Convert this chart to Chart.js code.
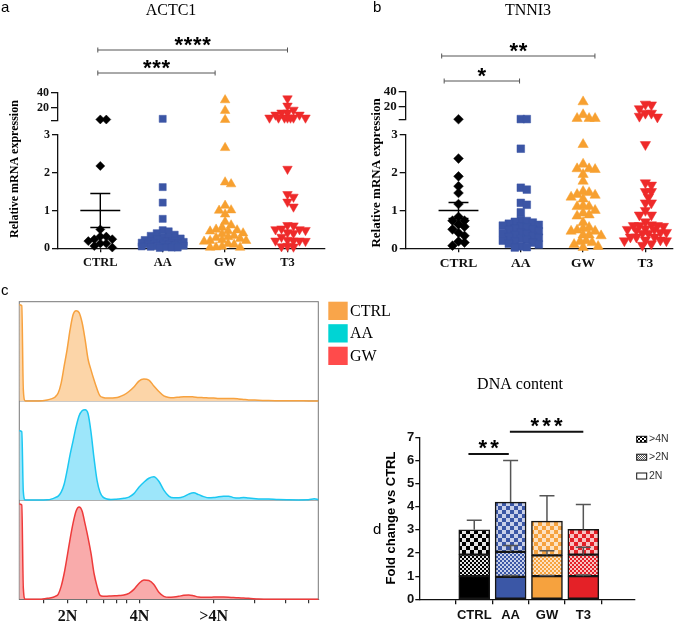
<!DOCTYPE html>
<html lang="en">
<head>
<meta charset="UTF-8">
<title>ACTC1 / TNNI3 expression and DNA content</title>
<script src="https://cdn.jsdelivr.net/npm/chart.js"></script>
<style>
  body { margin: 0; background: #fff; }
  #wrap { position: relative; width: 685px; height: 624px; overflow: hidden; background: #fff; }
  canvas { position: absolute; }
</style>
</head>
<body>
<div id="wrap">
  <canvas id="aUp" width="340" height="280" style="left:0;top:0"></canvas>
  <canvas id="aLow" width="340" height="280" style="left:0;top:0"></canvas>
  <canvas id="bUp" width="345" height="280" style="left:340px;top:0"></canvas>
  <canvas id="bLow" width="345" height="280" style="left:340px;top:0"></canvas>
  <canvas id="cHist" width="400" height="344" style="left:0;top:280px"></canvas>
  <canvas id="dBar" width="315" height="254" style="left:370px;top:370px"></canvas>
</div>
<script>
// ---- data: qPCR dot plots (relative mRNA expression) ----
const groups = ['CTRL', 'AA', 'GW', 'T3'];

const actc1Ctrl = [4.3, 4.4, 2.18, 0.5, 0.31, 0.31, 0.24, 0.24, 0.19, 0.13, 0.13, 0.06, 0.02];
const actc1AA = [5.2, 1.62, 1.21, 0.78, 0.48, 0.45, 0.4, 0.36, 0.33, 0.3, 0.28, 0.26, 0.24, 0.22, 0.2, 0.19,
  0.18, 0.17, 0.15, 0.15, 0.14, 0.13, 0.12, 0.11, 0.1, 0.09, 0.08, 0.07, 0.06, 0.05, 0.04, 0.03, 0.02, 0.02, 0.01];
const actc1GW = [30, 16, 4, 2.66, 1.75, 1.7, 1.13, 1.01, 1.0, 0.9, 0.7, 0.61, 0.55, 0.5, 0.48, 0.46, 0.45, 0.4,
  0.38, 0.33, 0.3, 0.28, 0.25, 0.22, 0.2, 0.2, 0.18, 0.12, 0.1, 0.05, 0.03, 0.02, 0.02];
const actc1T3 = [32, 22.4, 17, 13.2, 13.2, 10.5, 10.5, 6.6, 6.6, 6.6, 6.6, 6.6, 6.6, 6.6, 2.1, 1.43, 1.36, 1.23,
  1.1, 0.61, 0.6, 0.52, 0.5, 0.5, 0.48, 0.42, 0.4, 0.3, 0.22, 0.2, 0.2, 0.2, 0.19, 0.06, 0.05, 0.04];

const tnni3Ctrl = [4, 2.37, 1.9, 1.64, 1.46, 1.17, 0.83, 0.73, 0.73, 0.63, 0.57, 0.5, 0.41, 0.33, 0.18, 0.15, 0.07];
const tnni3AA = [4.2, 4.2, 2.63, 1.6, 1.55, 1.2, 1.15, 0.95, 0.75, 0.72, 0.7, 0.68, 0.65, 0.62, 0.6, 0.58, 0.55,
  0.52, 0.5, 0.48, 0.45, 0.42, 0.4, 0.38, 0.35, 0.32, 0.3, 0.28, 0.25, 0.22, 0.2, 0.18, 0.15, 0.12, 0.1, 0.05, 0.03, 0.02];
const tnni3GW = [27, 10, 5, 5, 5, 2.74, 2.22, 2.1, 2.1, 2.08, 1.95, 1.77, 1.5, 1.47, 1.42, 1.4, 1.35, 1.3, 1.12,
  1.1, 1.1, 1.0, 0.93, 0.88, 0.85, 0.68, 0.55, 0.52, 0.48, 0.45, 0.45, 0.35, 0.35, 0.33, 0.2, 0.18, 0.15, 0.1, 0.05, 0.02];
const tnni3T3 = [24, 23, 18, 12, 12, 8, 7, 2.74, 1.73, 1.67, 1.5, 1.5, 1.35, 1.2, 1.2, 1.0, 0.88, 0.88, 0.7, 0.62,
  0.6, 0.6, 0.6, 0.58, 0.52, 0.5, 0.5, 0.48, 0.42, 0.42, 0.4, 0.4, 0.3, 0.3, 0.3, 0.22, 0.22, 0.2, 0.2, 0.12, 0.08];

const actc1Mean = 1.0, actc1Sem = 0.45;
const tnni3Mean = 1.0, tnni3Sem = 0.21;
const actc1Sig = ['****', '***'];
const tnni3Sig = ['**', '*'];

const breakValue = 3;
const lowerTicks = [0, 1, 2, 3];
const upperTicks = [20, 40];

// ---- data: DNA content histograms ----
const histNames = ['CTRL', 'AA', 'GW'];
const dnaChannel = [0, 2.5, 4, 6, 10, 20, 28, 32, 36, 39, 42, 45, 48, 51, 54, 57, 60, 63, 66, 69, 72, 75, 78, 81, 84,
  88, 92, 96, 100, 105, 110, 115, 120, 125, 130, 135, 140, 145, 150, 155, 160, 165, 170, 175, 180, 185, 190, 195,
  200, 205, 210, 215, 220, 225, 230, 240, 250, 260, 270, 280, 290, 296, 300];
const ctrlCounts = [97, 96, 12, 0, 0, 0, 1, 2, 4, 8, 18, 35, 52, 72, 87, 91, 89, 79, 62, 42, 31, 21, 12, 5, 3.5,
  2.8, 2.8, 3.2, 4, 6, 9.5, 14, 20, 22, 21, 15, 9.5, 5, 3.5, 3.3, 3.8, 4.3, 4.3, 4, 3.5, 3.3, 3, 2.8,
  2.4, 2.3, 2.3, 2.3, 2, 1.5, 1, 0.7, 0.3, 0.2, 0.1, 0.1, 0, 0, 0];
const aaCounts = [70, 69, 9, 0, 0, 0, 0.3, 1, 2.5, 4, 8, 16, 30, 46, 60, 74, 85, 90, 91, 87, 68, 42, 20, 8, 3,
  1.2, 0.7, 0.8, 1.2, 1.8, 3, 6.5, 13, 18, 22, 23.5, 19, 10, 4, 2.3, 2.3, 3.5, 6, 7.3, 5.5, 3.5, 2.3, 2.6,
  3.3, 3.8, 4, 2.5, 2, 2.7, 2, 1.2, 1, 0.5, 0.3, 0.2, 0.3, 1.3, 0.5];
const gwCounts = [96, 95, 12, 0, 0, 0, 1, 1.5, 3, 5, 13, 26, 43, 61, 77, 89, 93, 89, 76, 62, 46, 26, 13, 4, 3,
  3.2, 3.3, 3.5, 3.8, 4.3, 6, 10, 16, 19.5, 19, 15, 7, 3, 2, 2.3, 3, 4, 4.3, 3.5, 2.3, 2, 2, 2.2,
  2.3, 2.2, 2, 1.7, 1.5, 1.2, 1, 0.3, 0, 0, 0, 0, 0, 0, 0];
const ploidyTicks = [24, 48.4, 68, 84.7, 97.4, 108, 120.7, 195, 235.7, 266.7, 290.7];
const ploidyText = ['', '2N', '', '', '', '', '4N', '>4N', '', '', ''];

// ---- data: DNA content fold change (stacked) ----
const dnaGroups = ['CTRL', 'AA', 'GW', 'T3'];
const part2N = [1.0, 0.97, 1.0, 1.0];
const partOver2N = [0.93, 1.08, 0.9, 0.93];
const partOver4N = [1.07, 2.15, 1.48, 1.09];
const err2N = [0, 0.06, 0.03, 0.05];
const errOver2N = [0, 0.28, 0.2, 0.32];
const errOver4N = [0.42, 1.8, 1.09, 1.08];
const dnaSig = ['**', '***'];

// ---- shared styling ----
const serif = "'Liberation Serif', 'Times New Roman', serif";
const sans = "'Liberation Sans', Arial, sans-serif";
const ink = '#111';

const markers = [
  { style: 'rectRot', r: 4.5, color: '#000000', rot: 0 },
  { style: 'rect', r: 5, color: '#3B55A5', rot: 0 },
  { style: 'triangle', r: 5.5, color: '#F7A030', rot: 0 },
  { style: 'triangle', r: 5.5, color: '#EE2A2A', rot: 180 }
];

const tickGrid = (len) => ({ display: true, drawOnChartArea: false, drawTicks: true, tickLength: len, color: ink, lineWidth: 1.3 });
const axisBorder = { display: true, color: ink, width: 1.3 };

// rough pixel height of a value on the broken axis, only used to spread the dots
function brokenPx(v) {
  return v <= breakValue ? v * 37.8 : breakValue * 37.8 + 14.3 + (v - breakValue) * 0.757;
}

// column scatter layout: each dot goes as near the centre as it can without overlap,
// but never wider than +-21px; when the column is full it takes the least crowded spot
function swarm(values, unitPx) {
  const order = values.map((v, i) => i).sort((a, b) => values[b] - values[a]);
  const placed = [];
  const out = [];
  order.forEach(i => {
    const y = brokenPx(values[i]);
    let best = 0, bestGap = -1;
    for (let n = 0; n <= 14; n++) {
      const dx = (n % 2 ? 1 : -1) * Math.ceil(n / 2) * 3;
      const gap = placed.length ? Math.min(...placed.map(p => (p.x - dx) ** 2 + (p.y - y) ** 2)) : Infinity;
      if (gap >= 36) { best = dx; break; }
      if (gap > bestGap) { bestGap = gap; best = dx; }
    }
    placed.push({ x: best, y });
    out[i] = best / unitPx;
  });
  return out;
}

function drawStars(ctx, cx, cy, text, gap, size) {
  ctx.save();
  ctx.fillStyle = '#000';
  ctx.font = 'bold ' + size + 'px ' + sans;
  ctx.textAlign = 'center';
  ctx.textBaseline = 'alphabetic';
  const n = text.length;
  for (let i = 0; i < n; i++) {
    ctx.fillText('*', cx + (i - (n - 1) / 2) * gap, cy + size * 0.58);
  }
  ctx.restore();
}

function dotPanel(p) {
  const xMin = (p.axisL - p.cat0) / p.unit;
  const xMax = (p.axisR - p.cat0) / p.unit;
  const yW = p.axisL - p.left;
  const rightPad = p.left + p.width - p.axisR;
  const offs = p.series.map(vals => swarm(vals, p.unit));

  const sets = (keep) => p.series.map((vals, g) => ({
    label: groups[g],
    data: vals.map((v, i) => ({ x: g + offs[g][i], y: v })).filter(d => keep(d.y)),
    pointStyle: markers[g].style,
    pointRadius: markers[g].r * p.k,
    pointRotation: markers[g].rot,
    backgroundColor: markers[g].color,
    borderColor: markers[g].color,
    borderWidth: 0.5,
    clip: false
  }));

  // upper part of the broken axis + title and comparison brackets
  new Chart(document.getElementById(p.ids[0]), {
    type: 'scatter',
    data: { datasets: sets(v => v > breakValue) },
    options: {
      responsive: false, animation: false, events: [],
      layout: { padding: { left: 0, top: p.upTop, right: rightPad, bottom: p.height - p.upBottom } },
      plugins: { legend: { display: false }, tooltip: { enabled: false } },
      scales: {
        x: { type: 'linear', min: xMin, max: xMax, display: false },
        y: {
          type: 'linear', min: breakValue, max: upperTicks[upperTicks.length - 1],
          afterFit: s => { s.width = yW; },
          afterBuildTicks: s => { s.ticks = [breakValue, ...upperTicks].map(value => ({ value })); },
          ticks: { autoSkip: false, callback: v => v === breakValue ? '' : v, font: { family: serif, weight: 'bold', size: p.fs }, color: ink, padding: 2 },
          grid: tickGrid(7), border: axisBorder
        }
      }
    },
    plugins: [{
      id: 'panelText',
      afterDraw(chart) {
        const ctx = chart.ctx, xs = chart.scales.x;
        ctx.save();
        ctx.fillStyle = '#000';
        ctx.font = '15px ' + sans;
        ctx.textBaseline = 'middle';
        ctx.fillText(p.letter, p.letterX, 8);
        ctx.font = '16px ' + serif;
        ctx.textAlign = 'center';
        ctx.fillText(p.title, p.titleX - p.left, 11);
        ctx.strokeStyle = '#555';
        ctx.lineWidth = 1;
        p.brackets.forEach((b, i) => {
          const x1 = xs.getPixelForValue(b.x1), x2 = xs.getPixelForValue(b.x2);
          ctx.beginPath();
          ctx.moveTo(x1, b.y); ctx.lineTo(x2, b.y);
          ctx.moveTo(x1, b.y - 2.5); ctx.lineTo(x1, b.y + 2.5);
          ctx.moveTo(x2, b.y - 2.5); ctx.lineTo(x2, b.y + 2.5);
          ctx.stroke();
          drawStars(ctx, (x1 + x2) / 2, b.y - 10.5, p.sig[i], 9.2, 22);
        });
        ctx.restore();
      }
    }]
  });

  // lower part of the axis with category labels, mean and SEM of the control group
  new Chart(document.getElementById(p.ids[1]), {
    type: 'scatter',
    data: { datasets: sets(v => v <= breakValue) },
    options: {
      responsive: false, animation: false, events: [],
      layout: { padding: { left: 0, top: p.lowTop, right: rightPad, bottom: 0 } },
      plugins: { legend: { display: false }, tooltip: { enabled: false } },
      scales: {
        x: {
          type: 'linear', min: xMin, max: xMax,
          afterFit: s => { s.height = p.height - p.lowBottom; },
          afterBuildTicks: s => { s.ticks = groups.map((g, i) => ({ value: i })); },
          ticks: { callback: v => groups[v], font: { family: serif, weight: 'bold', size: p.fs + 0.5 }, color: ink, padding: 3, maxRotation: 0, autoSkip: false },
          grid: tickGrid(4), border: axisBorder
        },
        y: {
          type: 'linear', min: 0, max: breakValue,
          afterFit: s => { s.width = yW; },
          afterBuildTicks: s => { s.ticks = lowerTicks.map(value => ({ value })); },
          ticks: { autoSkip: false, font: { family: serif, weight: 'bold', size: p.fs }, color: ink, padding: 2 },
          grid: tickGrid(6), border: axisBorder
        }
      }
    },
    plugins: [{
      id: 'meanSem',
      afterDatasetsDraw(chart) {
        const ctx = chart.ctx, xs = chart.scales.x, ys = chart.scales.y;
        const ym = ys.getPixelForValue(p.mean);
        const yt = ys.getPixelForValue(p.mean + p.sem), yb = ys.getPixelForValue(p.mean - p.sem);
        ctx.save();
        ctx.strokeStyle = '#000';
        ctx.lineWidth = 1.4;
        ctx.beginPath();
        ctx.moveTo(xs.getPixelForValue(-0.32), ym); ctx.lineTo(xs.getPixelForValue(0.32), ym);
        ctx.moveTo(xs.getPixelForValue(0), yt); ctx.lineTo(xs.getPixelForValue(0), yb);
        ctx.moveTo(xs.getPixelForValue(-0.16), yt); ctx.lineTo(xs.getPixelForValue(0.16), yt);
        ctx.moveTo(xs.getPixelForValue(-0.16), yb); ctx.lineTo(xs.getPixelForValue(0.16), yb);
        ctx.stroke();
        ctx.restore();
      },
      afterDraw(chart) {
        const ctx = chart.ctx;
        ctx.save();
        ctx.translate(p.yTitleX - p.left, p.yTitleY);
        ctx.rotate(-Math.PI / 2);
        ctx.fillStyle = '#000';
        ctx.font = 'bold ' + p.fs + 'px ' + serif;
        ctx.textAlign = 'center';
        ctx.textBaseline = 'middle';
        ctx.fillText('Relative mRNA expression', 0, 0);
        ctx.restore();
      }
    }]
  });
}

dotPanel({
  ids: ['aUp', 'aLow'], left: 0, width: 340, height: 280, k: 1,
  axisL: 58, axisR: 325, cat0: 100.3, unit: 62.4,
  upTop: 92.5, upBottom: 120.5, lowTop: 135, lowBottom: 248.3,
  series: [actc1Ctrl, actc1AA, actc1GW, actc1T3], mean: actc1Mean, sem: actc1Sem,
  title: 'ACTC1', titleX: 171, letter: 'a', letterX: 1, fs: 12,
  yTitleX: 15, yTitleY: 169, sig: actc1Sig,
  brackets: [{ x1: -0.04, x2: 3.0, y: 50 }, { x1: -0.04, x2: 1.84, y: 73 }]
});

dotPanel({
  ids: ['bUp', 'bLow'], left: 340, width: 345, height: 280, k: 1.08,
  axisL: 405.7, axisR: 673, cat0: 458.5, unit: 62.3,
  upTop: 92, upBottom: 120, lowTop: 134.7, lowBottom: 248.3,
  series: [tnni3Ctrl, tnni3AA, tnni3GW, tnni3T3], mean: tnni3Mean, sem: tnni3Sem,
  title: 'TNNI3', titleX: 528, letter: 'b', letterX: 33, fs: 13,
  yTitleX: 377, yTitleY: 173, sig: tnni3Sig,
  brackets: [{ x1: -0.27, x2: 2.19, y: 56 }, { x1: -0.23, x2: 0.98, y: 81 }]
});

// ---- panel c: stacked DNA histograms ----
const histLine = ['#F7A23F', '#1CC8F2', '#EE3B3B'];
const histFill = ['#FCD5A8', '#9DE6FA', '#F9ABAB'];
const histKey = ['#F9A54A', '#00D4D4', '#FF4B4B'];
const bandBase = [200, 100, 0];
const histCounts = [ctrlCounts, aaCounts, gwCounts];

new Chart(document.getElementById('cHist'), {
  type: 'line',
  data: {
    datasets: histNames.map((name, k) => ({
      label: name,
      data: dnaChannel.map((x, i) => ({ x, y: histCounts[k][i] + bandBase[k] })),
      borderColor: histLine[k],
      backgroundColor: histFill[k],
      fill: { value: bandBase[k] },
      borderWidth: 1.5,
      pointRadius: 0,
      cubicInterpolationMode: 'monotone',
      clip: false
    }))
  },
  options: {
    responsive: false, animation: false, events: [],
    layout: { padding: { left: 19.3, top: 21.7, right: 400 - 318.3, bottom: 0 } },
    plugins: { legend: { display: false }, tooltip: { enabled: false } },
    scales: {
      x: {
        type: 'linear', min: 0, max: 300,
        afterFit: s => { s.height = 344 - 319.3; },
        afterBuildTicks: s => { s.ticks = ploidyTicks.map(value => ({ value })); },
        ticks: { callback: (v, i) => ploidyText[i], font: { family: serif, weight: 'bold', size: 16 }, color: ink, padding: 4, maxRotation: 0, autoSkip: false },
        grid: { display: true, drawOnChartArea: false, tickLength: 4, color: '#333', lineWidth: 1.2 },
        border: { display: true, color: '#666', width: 1 }
      },
      y: { type: 'linear', min: 0, max: 300, display: false }
    }
  },
  plugins: [{
    id: 'frame',
    beforeDatasetsDraw(chart) {
      const ctx = chart.ctx, a = chart.chartArea, ys = chart.scales.y;
      ctx.save();
      ctx.strokeStyle = '#777';
      ctx.lineWidth = 1;
      ctx.strokeRect(a.left, a.top, a.right - a.left, a.bottom - a.top);
      [100, 200].forEach(v => {
        const y = ys.getPixelForValue(v);
        ctx.beginPath(); ctx.moveTo(a.left, y); ctx.lineTo(a.right, y); ctx.stroke();
      });
      ctx.restore();
    },
    afterDraw(chart) {
      const ctx = chart.ctx;
      ctx.save();
      ctx.fillStyle = '#000';
      ctx.font = '15px ' + sans;
      ctx.textBaseline = 'middle';
      ctx.fillText('c', 1, 11);
      ctx.font = '16px ' + serif;
      histNames.forEach((name, k) => {
        const top = 21.7 + k * 22.5;
        ctx.fillStyle = histKey[k];
        ctx.fillRect(328.3, top, 19.4, 18.3);
        ctx.fillStyle = '#000';
        ctx.fillText(name, 350, top + 10);
      });
      ctx.restore();
    }
  }]
});

// ---- panel d: stacked fold change bars ----
const barDark = ['#000000', '#3B57A6', '#F6A23E', '#E42127'];
const barLight = ['#e4e4e4', '#c8d0ea', '#fde2c2', '#f8c2c2'];

function checker(dark, light, cell) {
  const c = document.createElement('canvas');
  c.width = c.height = cell * 2;
  const g = c.getContext('2d');
  g.fillStyle = light;
  g.fillRect(0, 0, cell * 2, cell * 2);
  g.fillStyle = dark;
  g.fillRect(0, 0, cell, cell);
  g.fillRect(cell, cell, cell, cell);
  return g.createPattern(c, 'repeat');
}

const dnaParts = [part2N, partOver2N, partOver4N];
const dnaErrs = [err2N, errOver2N, errOver4N];
const dnaFill = [
  barDark,
  barDark.map((c, i) => checker(c, barLight[i], 2)),
  barDark.map((c, i) => checker(c, barLight[i], 4))
];
const partNames = ['2N', '>2N', '>4N'];

new Chart(document.getElementById('dBar'), {
  type: 'bar',
  data: {
    datasets: partNames.map((name, k) => ({
      label: name,
      data: dnaGroups.map((g, i) => ({ x: i, y: dnaParts[k][i] })),
      backgroundColor: dnaFill[k],
      borderColor: '#151515',
      borderWidth: 1.5,
      borderSkipped: false,
      barThickness: 31
    }))
  },
  options: {
    responsive: false, animation: false, events: [],
    layout: { padding: { left: 0, top: 67.3, right: 315 - 265, bottom: 0 } },
    plugins: { legend: { display: false }, tooltip: { enabled: false } },
    scales: {
      x: {
        type: 'linear', min: -0.77, max: 3.68, stacked: true,
        afterFit: s => { s.height = 254 - 229.3; },
        afterBuildTicks: s => { s.ticks = dnaGroups.map((g, i) => ({ value: i })); },
        ticks: { callback: v => dnaGroups[v], font: { family: sans, weight: 'bold', size: 13 }, color: ink, padding: 3, maxRotation: 0, autoSkip: false },
        grid: tickGrid(5), border: axisBorder
      },
      y: {
        type: 'linear', min: 0, max: 7, stacked: true,
        afterFit: s => { s.width = 49.3; },
        ticks: { stepSize: 1, font: { family: sans, weight: 'bold', size: 13 }, color: ink, padding: 1 },
        grid: tickGrid(4), border: axisBorder
      }
    }
  },
  plugins: [{
    id: 'errorsAndNotes',
    afterDatasetsDraw(chart) {
      const ctx = chart.ctx, xs = chart.scales.x, ys = chart.scales.y;
      ctx.save();
      ctx.strokeStyle = '#555';
      ctx.lineWidth = 1.5;
      dnaGroups.forEach((g, i) => {
        let cum = 0;
        dnaParts.forEach((arr, k) => {
          cum += arr[i];
          const e = dnaErrs[k][i];
          if (!e) return;
          const x = xs.getPixelForValue(i);
          const y0 = ys.getPixelForValue(cum), y1 = ys.getPixelForValue(cum + e);
          ctx.beginPath();
          ctx.moveTo(x, y0); ctx.lineTo(x, y1);
          ctx.moveTo(x - 7.5, y1); ctx.lineTo(x + 7.5, y1);
          ctx.stroke();
        });
      });
      ctx.restore();
    },
    afterDraw(chart) {
      const ctx = chart.ctx, xs = chart.scales.x, ys = chart.scales.y;
      ctx.save();
      ctx.fillStyle = '#000';
      ctx.font = '16px ' + serif;
      ctx.textAlign = 'center';
      ctx.textBaseline = 'middle';
      ctx.fillText('DNA content', 150, 15);
      ctx.font = '15px ' + sans;
      ctx.textAlign = 'left';
      ctx.fillText('d', 3, 160);

      // y title
      ctx.save();
      ctx.translate(21.7, 148);
      ctx.rotate(-Math.PI / 2);
      ctx.font = 'bold 13px ' + sans;
      ctx.textAlign = 'center';
      ctx.fillText('Fold change vs CTRL', 0, 0);
      ctx.restore();

      // significance bars
      const sigBars = [{ x1: -0.16, x2: 0.95, y: 6.28 }, { x1: 0.98, x2: 3.0, y: 7.24 }];
      ctx.strokeStyle = '#111';
      ctx.lineWidth = 2;
      sigBars.forEach((b, i) => {
        const x1 = xs.getPixelForValue(b.x1), x2 = xs.getPixelForValue(b.x2), y = ys.getPixelForValue(b.y);
        ctx.beginPath(); ctx.moveTo(x1, y); ctx.lineTo(x2, y); ctx.stroke();
        drawStars(ctx, (x1 + x2) / 2, y - 12, dnaSig[i], 11.7, 22);
      });

      // legend
      const keyFill = [checker('#000', '#fff', 2), checker('#555', '#fff', 1), '#fff'];
      const keyY = [69.3, 87.2, 106];
      ctx.font = '10.5px ' + sans;
      ctx.textBaseline = 'middle';
      ['>4N', '>2N', '2N'].forEach((name, k) => {
        ctx.fillStyle = keyFill[k];
        ctx.fillRect(266.7, keyY[k] - 3, 10, 6);
        ctx.strokeStyle = '#111';
        ctx.lineWidth = 1;
        ctx.strokeRect(266.7, keyY[k] - 3, 10, 6);
        ctx.fillStyle = '#333';
        ctx.fillText(name, 279, keyY[k]);
      });
      ctx.restore();
    }
  }]
});
</script>
</body>
</html>
